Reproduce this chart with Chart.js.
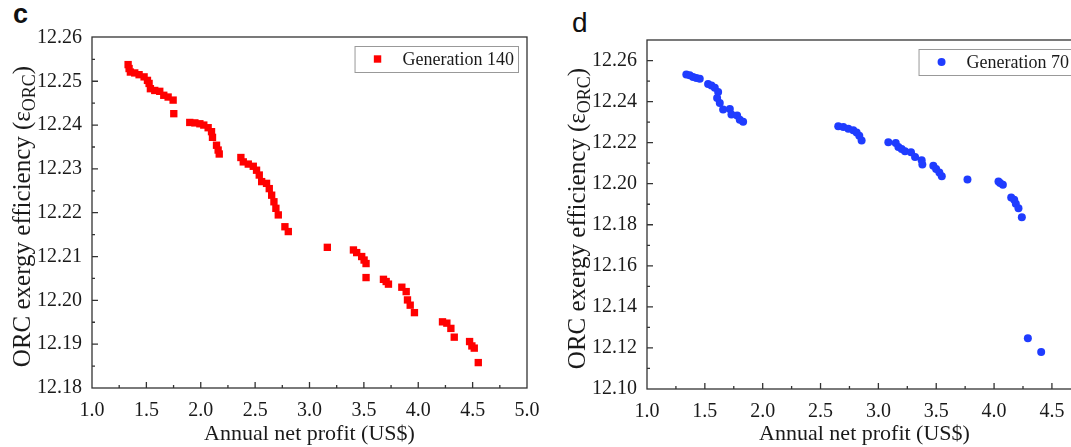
<!DOCTYPE html>
<html>
<head>
<meta charset="utf-8">
<script src="https://cdn.jsdelivr.net/npm/chart.js@4/dist/chart.umd.min.js"></script>
<style>
    html, body { margin: 0; padding: 0; background: #fff; overflow: hidden; width: 1071px; height: 447px; }
    .panel { position: absolute; top: 0; }
    .letter { position: absolute; font-family: "Liberation Sans", Arial, sans-serif; color: #111; }
</style>
</head>
<body>
<div class="letter" style="left:13px; top:-1px; font-size:27px; font-weight:bold;">c</div>
<div class="letter" style="left:572px; top:7px; font-size:28px;">d</div>
<div class="panel" style="left:0px;"><canvas id="chartC" width="545" height="447"></canvas></div>
<div class="panel" style="left:555px;"><canvas id="chartD" width="540" height="447"></canvas></div>
<script>
// generation 140 (panel c)
var gen140X = [1.332, 1.341, 1.353, 1.393, 1.433, 1.479, 1.510, 1.525, 1.537, 1.577, 1.623, 1.660, 1.700, 1.746, 1.752,
    1.899, 1.946, 1.992, 2.028, 2.068, 2.099, 2.108, 2.145, 2.160, 2.170,
    2.369, 2.391, 2.437, 2.483, 2.513, 2.538, 2.560, 2.605, 2.630, 2.652, 2.673, 2.691, 2.713, 2.774, 2.805,
    3.164,
    3.404, 3.434, 3.480, 3.502, 3.520, 3.520,
    3.680, 3.705, 3.726,
    3.849, 3.889, 3.901, 3.926, 3.965,
    4.223, 4.263, 4.300, 4.331,
    4.472, 4.493, 4.515, 4.552];
var gen140Y = [12.2538, 12.2529, 12.2521, 12.2519, 12.2515, 12.2510, 12.2502, 12.2495, 12.2483, 12.2479, 12.2477, 12.2468, 12.2464, 12.2457, 12.2426,
    12.2406, 12.2405, 12.2403, 12.2400, 12.2394, 12.2385, 12.2372, 12.2354, 12.2343, 12.2334,
    12.2326, 12.2316, 12.2311, 12.2306, 12.2297, 12.2286, 12.2271, 12.2267, 12.2255, 12.2240, 12.2225, 12.2210, 12.2195, 12.2168, 12.2157,
    12.2121,
    12.2115, 12.2109, 12.2100, 12.2092, 12.2084, 12.2052,
    12.2048, 12.2043, 12.2037,
    12.2030, 12.2020, 12.2001, 12.1989, 12.1972,
    12.1951, 12.1948, 12.1936, 12.1916,
    12.1906, 12.1896, 12.1891, 12.1858];

// generation 70 (panel d)
var gen70X = [1.340, 1.369, 1.398, 1.427, 1.456, 1.528, 1.557, 1.586, 1.615, 1.606, 1.629, 1.658, 1.716, 1.730, 1.779, 1.802, 1.831,
    2.653, 2.697, 2.740, 2.783, 2.812, 2.835, 2.855,
    3.086, 3.150, 3.173, 3.201, 3.230, 3.282, 3.317, 3.374, 3.380, 3.475, 3.499, 3.527, 3.548,
    3.770,
    4.038, 4.052, 4.076, 4.148, 4.174, 4.188, 4.211, 4.240,
    4.292, 4.407];
var gen70Y = [12.2532, 12.2528, 12.2520, 12.2515, 12.2511, 12.2486, 12.2478, 12.2467, 12.2447, 12.2418, 12.2393, 12.2361, 12.2364, 12.2337, 12.2332, 12.2312, 12.2302,
    12.2280, 12.2276, 12.2268, 12.2260, 12.2250, 12.2234, 12.2210,
    12.2202, 12.2198, 12.2179, 12.2169, 12.2158, 12.2153, 12.2130, 12.2114, 12.2093, 12.2088, 12.2072, 12.2055, 12.2036,
    12.2020,
    12.2011, 12.2003, 12.1995, 12.1933, 12.1922, 12.1902, 12.1881, 12.1837,
    12.1247, 12.1180];

var xTitle = 'Annual net profit (US$)';
var yTitle = ['ORC exergy efficiency (\u03b5', 'ORC', ')'];

var serif = '"Liberation Serif", "Times New Roman", serif';
var ink = '#1a1a1a';

// draws the box, inward ticks, axis titles and the legend
var framePlugin = {
    id: 'frame',
    afterDraw: function(chart) {
        var ctx = chart.ctx;
        var a = chart.chartArea;
        var ds = chart.data.datasets[0];
        ctx.save();

        // box round the plot
        ctx.strokeStyle = '#333';
        ctx.lineWidth = 1.3;
        ctx.strokeRect(a.left, a.top, a.right - a.left, a.bottom - a.top);

        // ticks, pointing inward, with a minor tick half way
        function tickValues(scale) {
            var vals = scale.ticks.map(function(t) { return t.value; });
            var step = vals[1] - vals[0];
            var out = [];
            vals.forEach(function(v) {
                out.push([v, 6]);
                out.push([v + step / 2, 3]);
            });
            out.push([vals[0] - step / 2, 3]);
            return out;
        }
        ctx.beginPath();
        tickValues(chart.scales.x).forEach(function(t) {
            var p = chart.scales.x.getPixelForValue(t[0]);
            if (p <= a.left + 1 || p >= a.right - 1) return;
            ctx.moveTo(p, a.bottom);
            ctx.lineTo(p, a.bottom - t[1]);
        });
        tickValues(chart.scales.y).forEach(function(t) {
            var p = chart.scales.y.getPixelForValue(t[0]);
            if (p <= a.top + 1 || p >= a.bottom - 1) return;
            ctx.moveTo(a.left, p);
            ctx.lineTo(a.left + t[1], p);
        });
        ctx.stroke();

        // x axis title
        ctx.fillStyle = ink;
        ctx.font = '22px ' + serif;
        ctx.textAlign = 'center';
        ctx.textBaseline = 'alphabetic';
        ctx.fillText(xTitle, (a.left + a.right) / 2, 440);

        // y axis title with subscript
        ctx.save();
        ctx.translate(30, (a.top + a.bottom) / 2 + 4);
        ctx.rotate(-Math.PI / 2);
        ctx.textAlign = 'left';
        ctx.font = '25px ' + serif;
        var w0 = ctx.measureText(yTitle[0]).width;
        var w2 = ctx.measureText(yTitle[2]).width;
        ctx.font = '18px ' + serif;
        var w1 = ctx.measureText(yTitle[1]).width;
        var x0 = -(w0 + w1 + w2) / 2;
        ctx.font = '25px ' + serif;
        ctx.fillText(yTitle[0], x0, 0);
        ctx.font = '18px ' + serif;
        ctx.fillText(yTitle[1], x0 + w0, 5);
        ctx.font = '25px ' + serif;
        ctx.fillText(yTitle[2], x0 + w0 + w1, 0);
        ctx.restore();

        // legend
        ctx.font = '18px ' + serif;
        var tw = ctx.measureText(ds.label).width;
        var bw = 48 + tw + 4;
        var bx = a.right - 9 - bw;
        var by = a.top + 9;
        ctx.strokeStyle = '#999';
        ctx.lineWidth = 1;
        ctx.strokeRect(bx + 0.5, by + 0.5, bw, 26);
        ctx.fillStyle = ds.backgroundColor;
        if (ds.pointStyle === 'rect') {
            ctx.fillRect(bx + 23 - 3.7, by + 13 - 3.7, 7.4, 7.4);
        } else {
            ctx.beginPath();
            ctx.arc(bx + 23, by + 13, ds.pointRadius, 0, Math.PI * 2);
            ctx.fill();
        }
        ctx.fillStyle = ink;
        ctx.textAlign = 'left';
        ctx.textBaseline = 'middle';
        ctx.fillText(ds.label, bx + 48, by + 14);

        ctx.restore();
    }
};

function makeChart(id, xs, ys, o) {
    var points = xs.map(function(x, i) {
        return { x: x, y: ys[i] };
    });
    return new Chart(document.getElementById(id), {
        type: 'scatter',
        data: {
            datasets: [{
                label: o.label,
                data: points,
                backgroundColor: o.color,
                borderWidth: 0,
                pointStyle: o.style,
                pointRadius: o.radius,
                pointHoverRadius: o.radius
            }]
        },
        options: {
            responsive: false,
            animation: false,
            events: [],
            layout: { padding: { left: 0, top: o.padTop, right: o.padRight, bottom: 0 } },
            plugins: {
                legend: { display: false },
                tooltip: { enabled: false }
            },
            scales: {
                x: {
                    type: 'linear',
                    min: 1.0,
                    max: o.xMax,
                    grid: { display: false },
                    border: { display: false },
                    ticks: {
                        stepSize: 0.5,
                        includeBounds: false,
                        padding: 3,
                        color: ink,
                        maxRotation: 0,
                        font: { family: serif, size: 20 },
                        callback: function(v) { return v.toFixed(1); }
                    },
                    afterFit: function(s) { s.height = o.xHeight; }
                },
                y: {
                    type: 'linear',
                    min: o.yMin,
                    max: o.yMax,
                    grid: { display: false },
                    border: { display: false },
                    ticks: {
                        stepSize: o.yStep,
                        includeBounds: false,
                        padding: 2,
                        color: ink,
                        font: { family: serif, size: 20 },
                        callback: function(v) { return v.toFixed(2); }
                    },
                    afterFit: function(s) { s.width = 92; }
                }
            }
        },
        plugins: [framePlugin]
    });
}

makeChart('chartC', gen140X, gen140Y, {
    label: 'Generation 140', color: '#ff0000', style: 'rect', radius: 5.2,
    xMax: 5.0, yMin: 12.18, yMax: 12.2601, yStep: 0.01,
    padTop: 37, padRight: 18, xHeight: 59
});

makeChart('chartD', gen70X, gen70Y, {
    label: 'Generation 70', color: '#1f3cff', style: 'circle', radius: 4,
    xMax: 4.76, yMin: 12.10, yMax: 12.27, yStep: 0.02,
    padTop: 40, padRight: 13, xHeight: 58
});
</script>
</body>
</html>
